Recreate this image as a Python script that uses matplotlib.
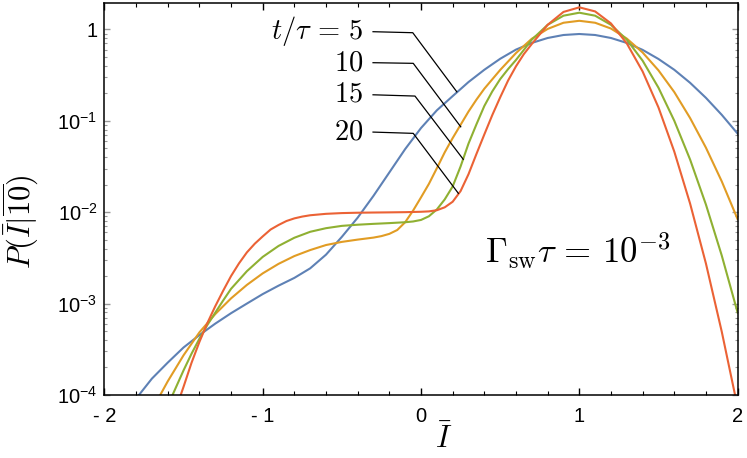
import numpy as np
import matplotlib
matplotlib.use("Agg")
import matplotlib.pyplot as plt
from matplotlib.ticker import FixedLocator, MultipleLocator, LogLocator, FixedFormatter, NullFormatter

plt.rcParams['font.family'] = ['Liberation Sans', 'DejaVu Sans']

# ---------------- data ----------------
blue_x = [-1.8, -1.7, -1.6, -1.5, -1.4, -1.3, -1.2, -1.1, -1.0, -0.9,
          -0.8, -0.7, -0.6, -0.5, -0.4, -0.3, -0.2, -0.1, 0.0, 0.1,
          0.2, 0.3, 0.4, 0.5, 0.6, 0.7, 0.8, 0.9, 1.0, 1.1,
          1.2, 1.3, 1.4, 1.5, 1.6, 1.7, 1.8, 1.9, 2.0]
blue_y = [9.12e-5, 1.51e-4, 2.26e-4, 3.31e-4, 4.52e-4, 6.03e-4, 7.85e-4, 1.00e-3, 1.27e-3, 1.57e-3,
          1.91e-3, 2.43e-3, 3.43e-3, 5.37e-3, 8.71e-3, 1.51e-2, 2.72e-2, 4.90e-2, 8.32e-2, 0.130,
          0.186, 0.265, 0.361, 0.476, 0.600, 0.710, 0.804, 0.867, 0.889, 0.867,
          0.804, 0.710, 0.596, 0.474, 0.361, 0.260, 0.178, 0.116, 0.0723]

orange_x = [-1.66, -1.6, -1.5, -1.4, -1.3, -1.2, -1.1, -1.0, -0.9, -0.8,
            -0.7, -0.6, -0.5, -0.4, -0.3, -0.25, -0.2, -0.15, -0.1, -0.05,
            0.0, 0.05, 0.1, 0.15, 0.2, 0.25, 0.3, 0.35, 0.4, 0.5,
            0.6, 0.7, 0.8, 0.9, 1.0, 1.1, 1.2, 1.3, 1.4, 1.5,
            1.6, 1.7, 1.8, 1.9, 2.0]
orange_y = [9.12e-5, 1.41e-4, 2.72e-4, 4.84e-4, 7.67e-4, 1.14e-3, 1.60e-3, 2.14e-3, 2.72e-3, 3.31e-3,
            3.85e-3, 4.37e-3, 4.73e-3, 5.01e-3, 5.27e-3, 5.47e-3, 5.79e-3, 6.38e-3, 7.76e-3, 1.04e-2,
            1.45e-2, 2.04e-2, 3.02e-2, 4.52e-2, 6.46e-2, 9.02e-2, 0.126, 0.170, 0.224, 0.359,
            0.550, 0.789, 1.01, 1.18, 1.24, 1.18, 1.02, 0.792, 0.558, 0.356,
            0.206, 0.107, 0.0507, 0.0217, 8.39e-3]

green_x = [-1.58, -1.5, -1.45, -1.4, -1.35, -1.3, -1.25, -1.2, -1.1, -1.0,
           -0.9, -0.8, -0.7, -0.6, -0.5, -0.4, -0.3, -0.2, -0.1, -0.05,
           0.0, 0.05, 0.1, 0.15, 0.2, 0.25, 0.3, 0.35, 0.4, 0.45,
           0.5, 0.55, 0.6, 0.7, 0.8, 0.9, 1.0, 1.1, 1.2, 1.3,
           1.4, 1.5, 1.6, 1.7, 1.8, 1.9, 2.0]
green_y = [9.12e-5, 1.86e-4, 2.82e-4, 4.12e-4, 5.82e-4, 7.94e-4, 1.08e-3, 1.45e-3, 2.26e-3, 3.24e-3,
           4.27e-3, 5.25e-3, 6.10e-3, 6.68e-3, 7.08e-3, 7.29e-3, 7.45e-3, 7.59e-3, 7.76e-3, 7.91e-3,
           8.22e-3, 9.02e-3, 1.07e-2, 1.38e-2, 1.91e-2, 3.16e-2, 5.62e-2, 9.12e-2, 0.145, 0.209,
           0.285, 0.367, 0.462, 0.771, 1.12, 1.41, 1.52, 1.41, 1.12, 0.771,
           0.454, 0.230, 0.100, 0.0376, 0.0121, 3.35e-3, 7.98e-4]

red_x = [-1.53, -1.5, -1.45, -1.4, -1.35, -1.3, -1.25, -1.2, -1.15, -1.1,
         -1.05, -1.0, -0.95, -0.9, -0.85, -0.8, -0.75, -0.7, -0.6, -0.5,
         -0.4, -0.3, -0.2, -0.1, 0.0, 0.05, 0.1, 0.15, 0.2, 0.25,
         0.3, 0.35, 0.4, 0.45, 0.5, 0.55, 0.6, 0.65, 0.7, 0.8,
         0.9, 1.0, 1.1, 1.2, 1.3, 1.4, 1.5, 1.6, 1.7, 1.8,
         1.9, 1.99]
red_y = [8.71e-5, 1.23e-4, 2.24e-4, 3.80e-4, 6.10e-4, 9.33e-4, 1.38e-3, 2.00e-3, 2.75e-3, 3.63e-3,
         4.52e-3, 5.43e-3, 6.46e-3, 7.24e-3, 8.00e-3, 8.55e-3, 8.95e-3, 9.25e-3, 9.59e-3, 9.77e-3,
         9.86e-3, 9.91e-3, 9.95e-3, 1.00e-2, 1.01e-2, 1.02e-2, 1.05e-2, 1.13e-2, 1.30e-2, 1.70e-2,
         2.60e-2, 4.32e-2, 7.08e-2, 0.115, 0.180, 0.275, 0.394, 0.537, 0.692, 1.12,
         1.55, 1.74, 1.57, 1.16, 0.702, 0.346, 0.140, 0.0460, 0.0124, 2.74e-3,
         4.92e-4, 8.91e-5]

x_ticks = [-2, -1, 0, 1, 2]
x_tick_labels = ['- 2', '- 1', '0', '1', '2']
y_ticks = [1e-4, 1e-3, 1e-2, 1e-1, 1]
y_tick_labels = [r'$\mathdefault{10^{-4}}$', r'$\mathdefault{10^{-3}}$',
                 r'$\mathdefault{10^{-2}}$', r'$\mathdefault{10^{-1}}$', '1']

curve_labels = [r'$t/\tau\,=\,5$', r'$10$', r'$15$', r'$20$']

colors = ['#5E81B5', '#E19C24', '#8FB032', '#EB6235']

# ---------------- figure ----------------
W, H = 747, 458
fig = plt.figure(figsize=(W / 100, H / 100), dpi=100)
ax = fig.add_axes([104.4 / W, 63 / H, 633.2 / W, 392 / H])

series = [(blue_x, blue_y), (orange_x, orange_y), (green_x, green_y), (red_x, red_y)]
for (xs, ys), c in zip(series, colors):
    ax.plot(xs, ys, color=c, lw=1.5, solid_joinstyle='round')

ax.set_yscale('log')
ax.set_xlim(-2, 2)
ax.set_ylim(1e-4, 10 ** 0.288)

ax.xaxis.set_major_locator(FixedLocator(x_ticks))
ax.xaxis.set_major_formatter(FixedFormatter(x_tick_labels))
ax.xaxis.set_minor_locator(MultipleLocator(0.2))
ax.yaxis.set_major_locator(FixedLocator(y_ticks))
ax.yaxis.set_major_formatter(FixedFormatter(y_tick_labels))
ax.yaxis.set_minor_locator(LogLocator(base=10, subs=np.arange(2, 10)))
ax.yaxis.set_minor_formatter(NullFormatter())

ax.tick_params(axis='x', which='both', direction='in', top=True, bottom=True,
               color='black', labelsize=14.5)
ax.tick_params(axis='x', which='major', length=5, width=1.0, pad=9)
ax.tick_params(axis='x', which='minor', length=3, width=0.8)
ax.tick_params(axis='y', which='both', direction='in', left=True, right=True,
               color='#999999', labelsize=14.5)
ax.tick_params(axis='y', which='major', length=4.5, width=1.0, pad=5)
ax.tick_params(axis='y', which='minor', length=2.5, width=0.8)

for sp in ax.spines.values():
    sp.set_linewidth(1.1)
    sp.set_color('black')

# axis labels
fig.text(21 / W, 1 - 222 / H, r'$P(\bar{I}|\overline{10})$', rotation=90,
         ha='center', va='center', fontsize=22, math_fontfamily='cm')
fig.text(444 / W, 1 - 440 / H, r'$\bar{I}$', ha='center', va='center',
         fontsize=22, math_fontfamily='cm')

# curve labels with leader lines
text_x = -0.366
text_logy = [-0.019, -0.369, -0.713, -1.124]
lead_start_x = -0.303
lead_corner = [(-0.052, -0.037), (-0.049, -0.372), (-0.038, -0.730), (-0.049, -1.138)]
lead_start_logy = [-0.026, -0.365, -0.716, -1.124]
lead_end = [(0.226, -0.683), (0.251, -1.066), (0.267, -1.422), (0.236, -1.794)]
for lab, ty, sy, (cx, cy), (ex, ey) in zip(curve_labels, text_logy, lead_start_logy,
                                           lead_corner, lead_end):
    ax.text(text_x, 10 ** ty, lab, ha='right', va='center', fontsize=20.5,
            math_fontfamily='cm')
    ax.plot([lead_start_x, cx, ex], [10 ** sy, 10 ** cy, 10 ** ey], color='black', lw=0.9)

ax.text(0.404, 10 ** -2.426, r'$\Gamma_{\mathrm{sw}}\tau\,=\,10^{-3}$',
        ha='left', va='center', fontsize=25, math_fontfamily='cm')

fig.savefig('out.png', dpi=100)
